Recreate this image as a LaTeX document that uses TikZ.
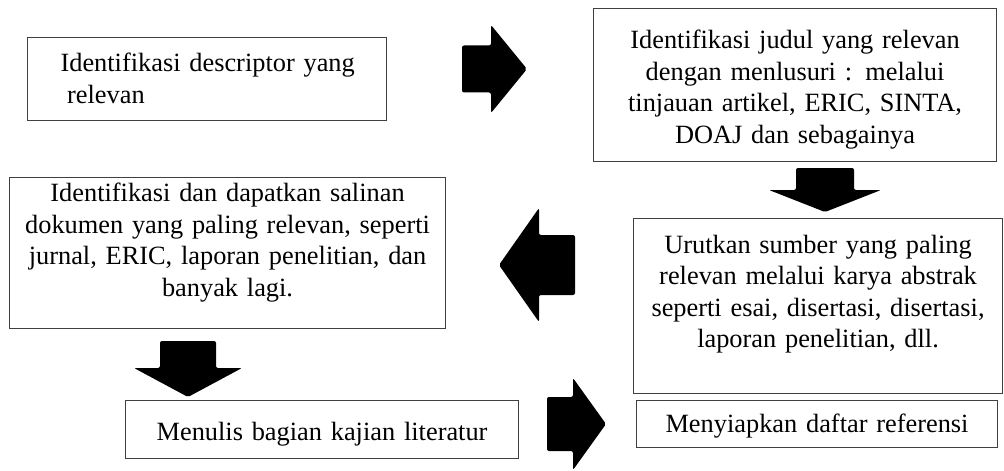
\documentclass[tikz,border=0pt]{standalone}
\usepackage{fontspec}
\setmainfont{Liberation Serif}
\usepackage{tikz}

\begin{document}
\begin{tikzpicture}[x=0.5mm,y=-0.5mm]
\tikzset{
  bx/.style={rectangle,draw=black!75,line width=0.55mm,inner sep=0pt,anchor=north west,align=center,font=\fontsize{37.5}{44.8}\selectfont},
  blk/.style={fill=black,rounded corners=1mm}
}
\path[fill=white,use as bounding box] (0,0) rectangle (1004,471);
\node[bx,align=left,inner xsep=16.5mm,text width=146.5mm,text height=17mm,text depth=24.5mm] (desc) at (27,37) {\mbox{Identifikasi descriptor yang}\\\hspace*{.25em}relevan};
\node[bx,text width=201.5mm,text height=20mm,text depth=56.5mm] (judul) at (593,8) {Identifikasi judul yang relevan\\dengan menlusuri : melalui\\tinjauan artikel, ERIC, SINTA,\\DOAJ dan sebagainya};
\node[bx,text width=218mm,text height=12mm,text depth=63.5mm] (salin) at (9,177) {Identifikasi dan dapatkan salinan\\dokumen yang paling relevan, seperti\\jurnal, ERIC, laporan penelitian, dan\\banyak lagi.};
\node[bx,text width=184.5mm,text height=17.25mm,text depth=70.25mm] (urut) at (633,218) {Urutkan sumber yang paling\\relevan melalui karya abstrak\\seperti esai, disertasi, disertasi,\\laporan penelitian, dll.};
\node[bx,text width=196.5mm,text height=20mm,text depth=9mm] (tulis) at (125,400) {Menulis bagian kajian literatur};
\node[bx,text width=180.5mm,text height=16mm,text depth=7.5mm] (daftar) at (636,400) {Menyiapkan daftar referensi};
% block arrows: tail x/tail y/turn/length/half shaft/half head/head length
\foreach \x/\y/\r/\l/\s/\h/\k in {462/69/0/65/23.5/44/36,825/168/-90/44/29/56/22,575/265/180/76/30/57/40,188/341/-90/56/28/54/29,547/424/0/59/27/46/33}{
  \fill[blk,shift={(\x,\y)},rotate=\r] (0,-\s) -- (\l-\k,-\s) -- (\l-\k,-\h) -- (\l,0) -- (\l-\k,\h) -- (\l-\k,\s) -- (0,\s) -- cycle;
}
\end{tikzpicture}
\end{document}
